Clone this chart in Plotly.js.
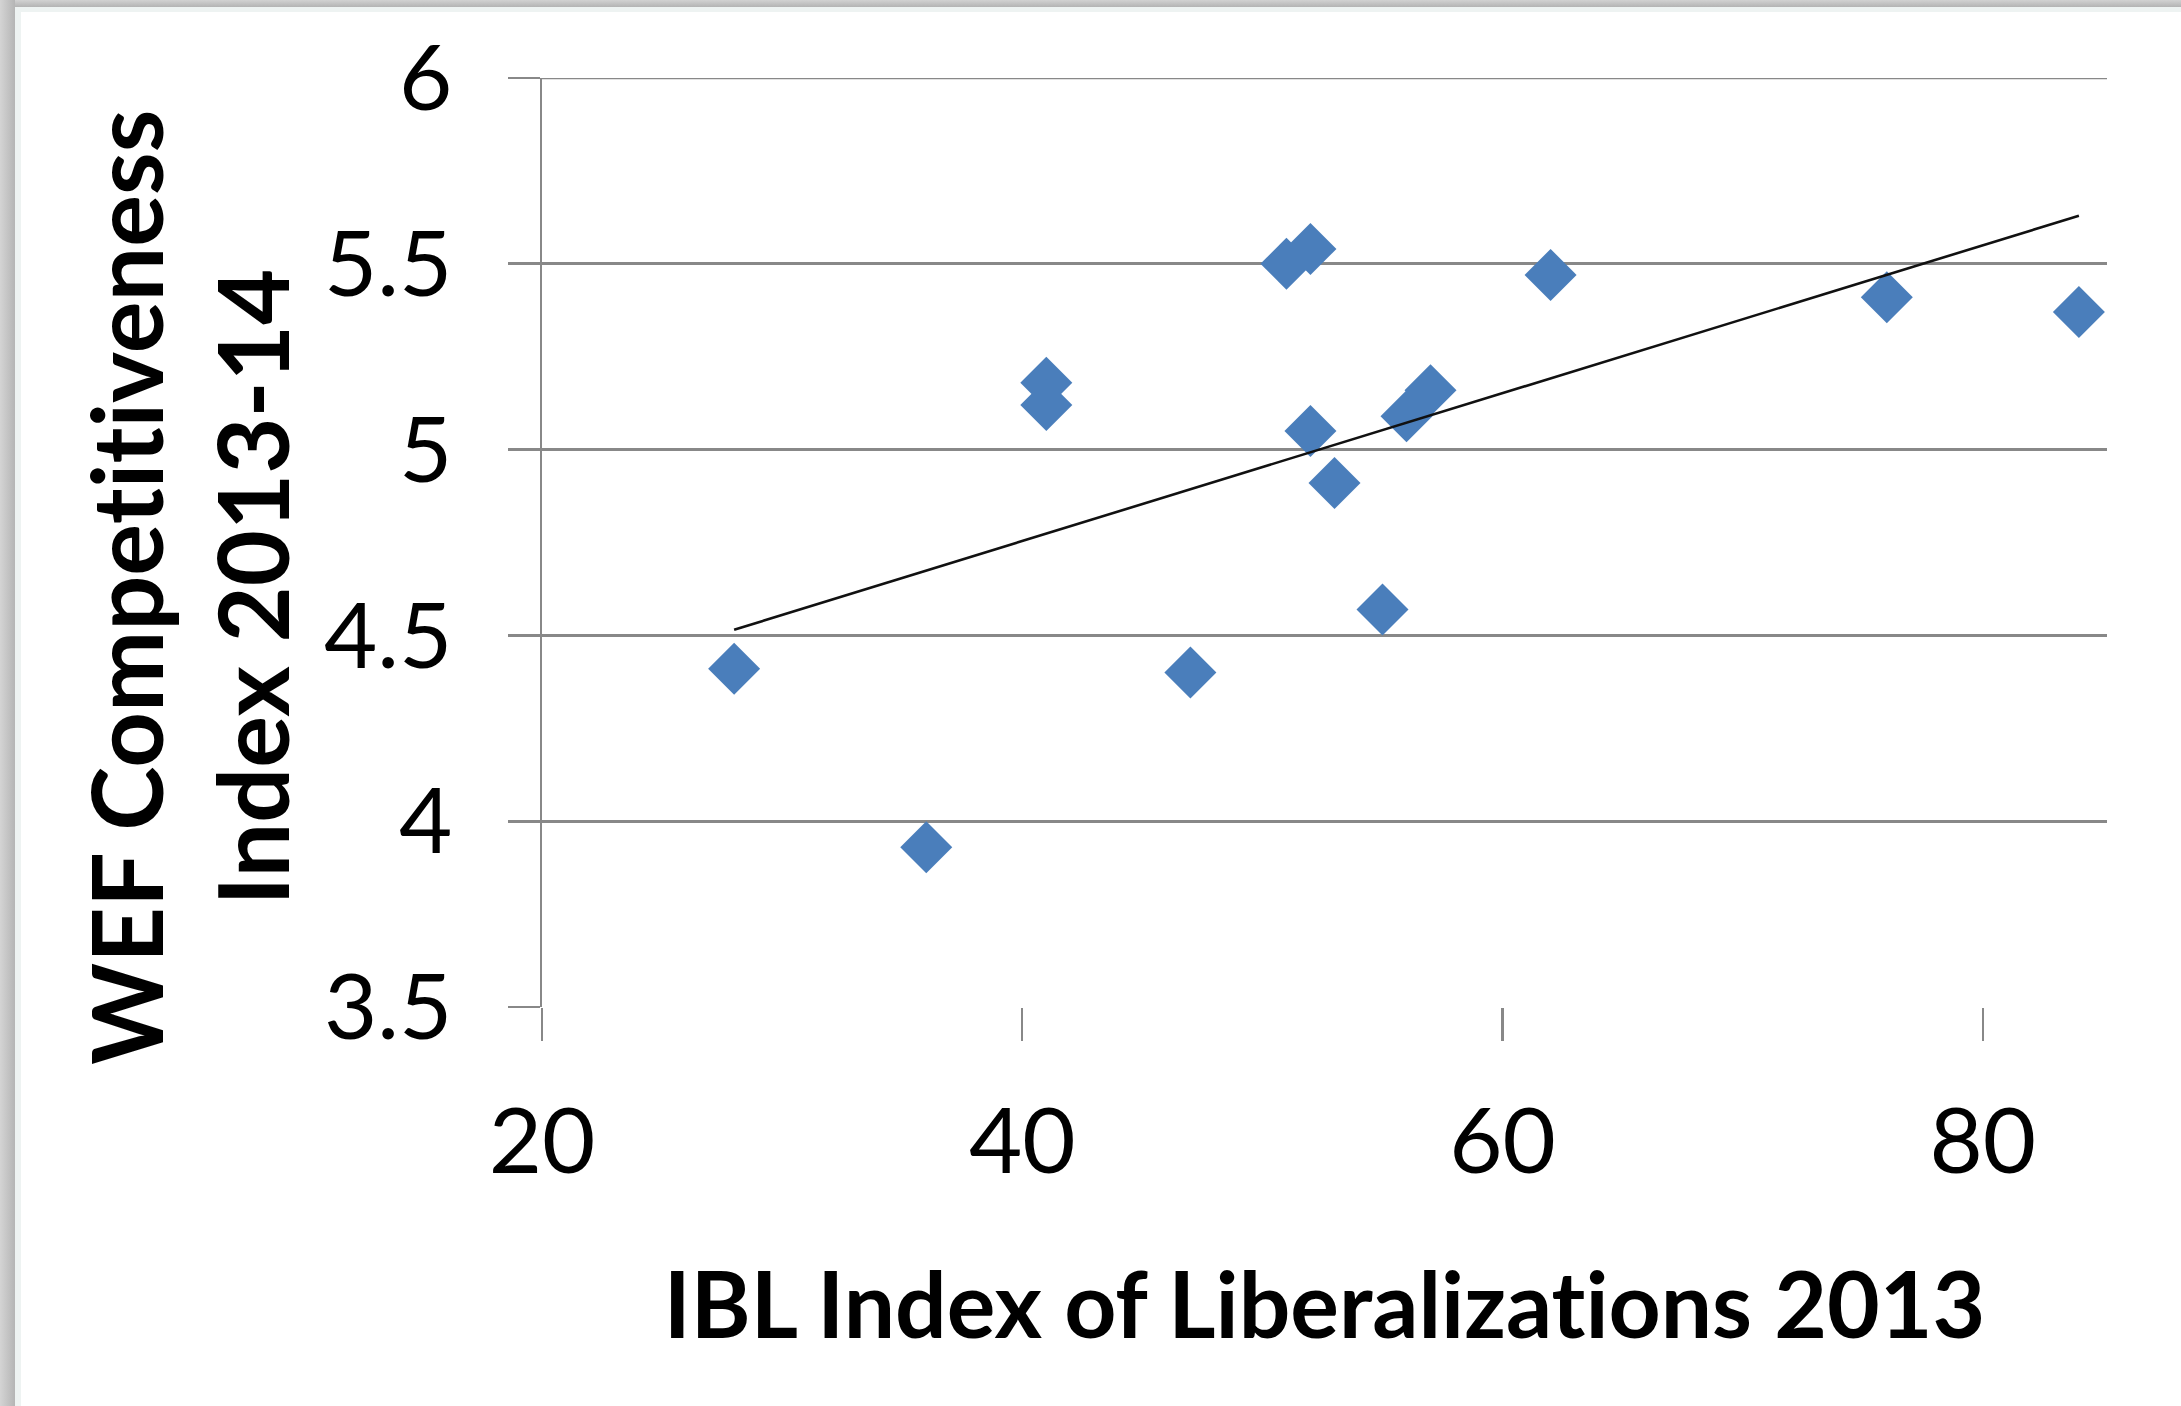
<!DOCTYPE html>
<html>
<head>
<meta charset="utf-8">
<script src="https://cdn.plot.ly/plotly-3.0.1.min.js"></script>
<style>
  html, body { margin: 0; padding: 0; background: #ffffff; }
  #wrap { position: relative; width: 2181px; height: 1406px; overflow: hidden; background: #ffffff; }
  #chart { position: absolute; left: 0; top: 0; width: 2181px; height: 1406px; }
  #chart text { font-variant-ligatures: none; font-feature-settings: "liga" 0, "clig" 0; }
  .frame-top { position: absolute; left: 0; top: 0; width: 2181px; height: 7px;
    background: linear-gradient(to bottom, #d2d2d2, #b3b3b3); }
  .frame-top-light { position: absolute; left: 15px; top: 7px; width: 2166px; height: 5px; background: #eef3f2; }
  .frame-left { position: absolute; left: 0; top: 0; width: 15px; height: 1406px;
    background: linear-gradient(to right, #d4d4d4, #b5b5b5); }
  .frame-left-light { position: absolute; left: 15px; top: 7px; width: 6px; height: 1399px; background: #eef3f2; }
</style>
</head>
<body>
<div id="wrap">
  <div id="chart"></div>
  <div class="frame-top"></div>
  <div class="frame-left"></div>
  <div class="frame-top-light"></div>
  <div class="frame-left-light"></div>
</div>
<script>
// IBL Index of Liberalizations 2013 (x) vs WEF Competitiveness Index 2013-14 (y)
const iblIndex = [28, 36, 41, 41, 47, 51, 52, 52, 53, 55, 56, 57, 62, 76, 84];
const wefIndex = [4.41, 3.93, 5.18, 5.12, 4.40, 5.50, 5.54, 5.05, 4.91, 4.57, 5.09, 5.16, 5.47, 5.41, 5.37];

const xTickVals = [20, 40, 60, 80];
const yTickVals = [3.5, 4, 4.5, 5, 5.5, 6];
const yTickText = ['3.5', '4', '4.5', '5', '5.5', '6'];

const xTitle = 'IBL Index of Liberalizations 2013';
const yTitle = 'WEF Competitiveness<br>Index 2013-14';

// linear trendline (least squares) from the data
const n = iblIndex.length;
const mx = iblIndex.reduce((a, b) => a + b, 0) / n;
const my = wefIndex.reduce((a, b) => a + b, 0) / n;
let sxy = 0, sxx = 0;
for (let i = 0; i < n; i++) {
  sxy += (iblIndex[i] - mx) * (wefIndex[i] - my);
  sxx += (iblIndex[i] - mx) * (iblIndex[i] - mx);
}
const slope = sxy / sxx;
const intercept = my - slope * mx;
const xMin = Math.min(...iblIndex), xMax = Math.max(...iblIndex);
const trendX = [xMin, xMax];
const trendY = trendX.map(v => intercept + slope * v);

const FONT = 'Lato, "Open Sans", "Noto Sans", sans-serif';
const yTop = yTickVals[yTickVals.length - 1];

const data = [
  {
    type: 'scatter', mode: 'markers',
    x: iblIndex, y: wefIndex,
    marker: { symbol: 'diamond', size: 40, color: '#4a7ebb', line: { width: 0 } },
    hoverinfo: 'x+y', showlegend: false
  },
  {
    type: 'scatter', mode: 'lines',
    x: trendX, y: trendY,
    line: { color: '#111111', width: 2.6 },
    hoverinfo: 'skip', showlegend: false
  }
];

const layout = {
  width: 2181, height: 1406, autosize: false,
  paper_bgcolor: 'rgba(0,0,0,0)', plot_bgcolor: '#ffffff',
  margin: { l: 542, r: 74, t: 78, b: 399, pad: 0 },
  font: { family: FONT, color: '#000000' },
  showlegend: false,
  xaxis: {
    range: [20, 85.17],
    tickvals: xTickVals, ticktext: xTickVals.map(String),
    ticks: 'outside', ticklen: 33, tickwidth: 2.2, tickcolor: '#888888',
    showgrid: false, zeroline: false,
    showline: false,
    tickfont: { family: FONT, size: 92, color: '#000000' },
    ticklabelstandoff: 22
  },
  yaxis: {
    range: [3.5, 6],
    tickvals: yTickVals, ticktext: yTickText,
    ticks: 'outside', ticklen: 32, tickwidth: 2.6, tickcolor: '#888888',
    showgrid: true, gridcolor: '#888888', gridwidth: 2.6,
    zeroline: false,
    showline: true, linecolor: '#888888', linewidth: 2.2,
    tickfont: { family: FONT, size: 92, color: '#000000' },
    ticklabelstandoff: 37
  },
  shapes: [
    { type: 'line', xref: 'paper', yref: 'y', x0: 0, x1: 1, y0: yTop, y1: yTop,
      line: { color: '#888888', width: 2.6 }, layer: 'below' }
  ],
  annotations: [
    {
      text: '<b>' + xTitle + '</b>', xref: 'paper', yref: 'paper',
      x: 0.5, y: -0.318, xanchor: 'center', yanchor: 'middle', showarrow: false,
      font: { family: FONT, size: 91, color: '#000000' }
    },
    {
      text: '<b>' + yTitle + '</b>', xref: 'paper', yref: 'paper',
      x: -0.226, y: 0.452, xanchor: 'center', yanchor: 'middle', showarrow: false,
      textangle: -90,
      font: { family: FONT, size: 97, color: '#000000' }
    }
  ]
};

Plotly.newPlot('chart', data, layout, { staticPlot: true, displayModeBar: false });
</script>
</body>
</html>
